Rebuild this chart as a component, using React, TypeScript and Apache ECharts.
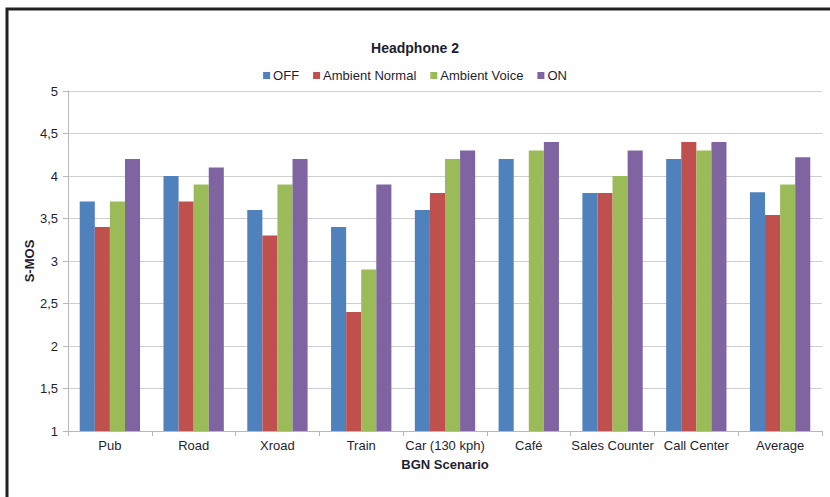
import React, { useEffect, useRef } from "react";
import * as echarts from "echarts";

const categories = ["Pub", "Road", "Xroad", "Train", "Car (130 kph)", "Café", "Sales Counter", "Call Center", "Average"];
const seriesNames = ["OFF", "Ambient Normal", "Ambient Voice", "ON"];
const offValues = [3.7, 4.0, 3.6, 3.4, 3.6, 4.2, 3.8, 4.2, 3.81];
const ambientNormalValues = [3.4, 3.7, 3.3, 2.4, 3.8, null, 3.8, 4.4, 3.54];
const ambientVoiceValues = [3.7, 3.9, 3.9, 2.9, 4.2, 4.3, 4.0, 4.3, 3.9];
const onValues = [4.2, 4.1, 4.2, 3.9, 4.3, 4.4, 4.3, 4.4, 4.22];
const colors = ["#4F81BD", "#C0504D", "#9BBB59", "#8064A2"];

const FONT = "'Liberation Sans', Arial, sans-serif";
const TEXT = "#1e1e30";

export default function App() {
  const ref = useRef<HTMLDivElement>(null);
  useEffect(() => {
    if (!ref.current) return;
    const chart = echarts.init(ref.current, undefined, { renderer: "svg" });
    const data = [offValues, ambientNormalValues, ambientVoiceValues, onValues];
    chart.setOption({
      animation: false,
      backgroundColor: "#ffffff",
      color: colors,
      textStyle: { fontFamily: FONT },
      title: {
        text: "Headphone 2",
        left: "center",
        top: 36,
        textStyle: { fontFamily: FONT, fontSize: 14, fontWeight: "bold", color: TEXT },
      },
      legend: {
        data: seriesNames,
        top: 64,
        left: "center",
        itemWidth: 7,
        itemHeight: 7,
        itemGap: 14,
        icon: "rect",
        textStyle: { fontFamily: FONT, fontSize: 13, color: TEXT, padding: [0, 0, 0, -2] },
      },
      grid: { left: 68, right: 8, top: 91, bottom: 66, containLabel: false },
      xAxis: {
        type: "category",
        data: categories,
        name: "BGN Scenario",
        nameLocation: "middle",
        nameGap: 27,
        nameMoveOverlap: false,
        nameTextStyle: { fontFamily: FONT, fontSize: 13, fontWeight: "bold", color: TEXT },
        axisLine: { show: true, lineStyle: { color: "#b8b8b8", width: 1 } },
        axisTick: { show: true, length: 5, alignWithLabel: false, lineStyle: { color: "#b8b8b8" } },
        axisLabel: { fontFamily: FONT, fontSize: 13, color: TEXT, margin: 8, interval: 0 },
      },
      yAxis: {
        type: "value",
        min: 1,
        max: 5,
        interval: 0.5,
        name: "S-MOS",
        nameLocation: "middle",
        nameGap: 32,
        nameMoveOverlap: false,
        nameRotate: 90,
        nameTextStyle: { fontFamily: FONT, fontSize: 13, fontWeight: "bold", color: TEXT },
        axisLine: { show: true, lineStyle: { color: "#b8b8b8", width: 1 } },
        axisTick: { show: true, length: 5, lineStyle: { color: "#b8b8b8" } },
        axisLabel: {
          fontFamily: FONT,
          fontSize: 13,
          color: TEXT,
          margin: 10,
          formatter: (v: number) => String(v).replace(".", ","),
        },
        splitLine: { show: true, lineStyle: { color: "#cfcfcf", width: 1 } },
      },
      series: seriesNames.map((name, i) => ({
        name,
        type: "bar",
        data: data[i],
        barGap: "0%",
        barCategoryGap: "28%",
        itemStyle: { color: colors[i] },
      })),
      graphic: [
        {
          type: "polyline",
          shape: { points: [[7, 497], [7, 9], [830, 9]] },
          style: { stroke: "#222222", lineWidth: 3, fill: "none" },
          silent: true,
        },
      ],
    });
    return () => chart.dispose();
  }, []);
  return (
    <div
      ref={ref}
      style={{ position: "absolute", left: 0, top: 0, width: 830, height: 497 }}
    />
  );
}
